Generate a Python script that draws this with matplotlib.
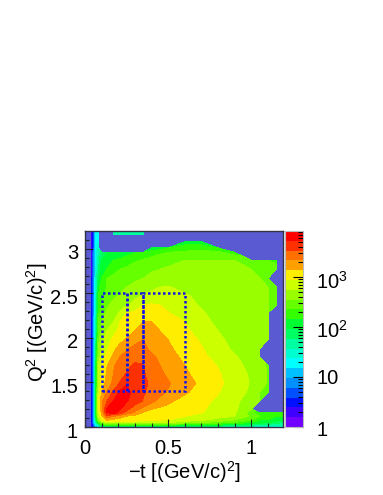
import numpy as np
import matplotlib
matplotlib.use("Agg")
import matplotlib.pyplot as plt
from matplotlib.colors import ListedColormap
from matplotlib.patches import Rectangle
from matplotlib.transforms import ScaledTranslation

plt.rcParams['font.family'] = ['Liberation Sans', 'DejaVu Sans']
plt.rcParams['mathtext.fontset'] = 'custom'
plt.rcParams['mathtext.rm'] = 'Liberation Sans'
plt.rcParams['mathtext.it'] = 'Liberation Sans'
plt.rcParams['mathtext.default'] = 'rm'

N = np.nan
T = [0, .038, .05, .065, .08, .1, .13, .17, .21, .25, .3, .35, .4, .45, .5, .6, .7, .8, .9, 1, 1.05, 1.1, 1.15, 1.19]
Q2 = [1.0, 1.02, 1.05, 1.08, 1.12, 1.16, 1.2, 1.29, 1.39, 1.49, 1.59, 1.69, 1.79, 1.88, 1.98, 2.08, 2.18, 2.28, 2.37, 2.47,
      2.57, 2.67, 2.77, 2.87, 2.96, 3.01, 3.08, 3.16, 3.22]
# colour-band number read at each (Q2, t) node; each band is 0.196 decades of counts
BAND = [
 [N,1,2, 4,5,7,8.5,8.5,8.5,8.5,8.5,8.5,8.5,8.5,8.5,8.5,8,8,7.5,7,7,6.5,6,6],
 [N,1,3, 6,8,10.5,11,11,11,11,11,11,11,11,11,10.5,10.5,10,9.5,9,8.5,8.5,8,8],
 [N,1,4, 8,11,13,14.2,14.5,14.5,14.5,14.5,14.5,14.5,14.3,14,13.5,13,12.5,12,11,10.5,10,9.5,9],
 [N,1,4, 9,13,14.8,16.2,15.8,15.6,15.5,15.4,15.3,15.2,15.1,15,14.6,14.2,13.7,13,12,11,11,10.5,10],
 [N,1,4, 10,14,15.8,17.5,17.1,16.4,15.9,15.7,15.5,15.4,15.3,15.2,15,14.6,14.3,14,12.8,12,11.5,11,11],
 [N,1,4, 10.5,14.5,16.3,19,19.4,18.7,17.6,16.8,15.9,15.7,15.6,15.5,15.3,15.05,14.6,14.1,12.5,11,11.5,12,12],
 [N,1,4, 10.5,15,16.5,19.1,19.5,19.05,18.3,17.4,16.7,16,15.8,15.7,15.4,15.1,14.7,14.2,13,N,N,N,N],
 [N,1,4, 10.5,15,16.8,17.9,19,19.5,19.1,18.5,17.95,17.3,16.7,16.2,15.6,15.2,14.85,14.3,13.3,13,N,N,N],
 [N,1,4, 10,14.5,16,17,18.2,19.2,19.4,18.6,18.1,17.7,17.3,16.9,16.15,15.55,15.05,14.45,13.8,13,12.9,N,N],
 [N,1,4, 10,14,15.3,16.4,17.2,18.1,18.9,18.5,18.2,17.85,17.45,17.1,16.4,15.8,15.2,14.6,13.9,13.4,12.9,N,N],
 [N,1,4, 10,14.1,15.2,16.1,17,17.6,18.1,18.4,18.1,17.65,17.2,16.85,16.2,15.55,15.1,14.5,13.85,13.4,12.9,N,N],
 [N,1,4, 10,14,15,15.9,16.9,17.3,17.7,18.2,18.05,17.5,17,16.7,16,15.4,14.95,14.3,13.7,13.3,12.9,N,N],
 [N,1,4, 9.5,13.5,14.4,15.3,16.2,17,17.3,17.6,17.7,17.2,16.8,16.5,15.7,15.2,14.7,14.1,13.5,13.2,N,N,N],
 [N,1,4, 9,13,14.1,14.8,15.7,16.4,16.9,17.3,17.2,16.8,16.5,16.2,15.5,15.05,14.45,13.8,13.3,13,N,N,N],
 [N,1,4, 8.5,12.7,13.7,14.5,15.2,15.7,16.1,16.6,17,16.6,16.3,16,15.35,14.9,14.2,13.7,13.3,13.1,13,N,N],
 [N,1,4, 8,12,13.2,14,14.7,15.2,15.6,16,16.2,16.25,16,15.7,15.2,14.6,14,13.5,13.3,13.1,13,N,N],
 [N,1,4, 8,12,13,13.5,14,15,15.3,15.6,16,16,15.6,15.4,15,14.3,13.8,13.4,13.2,13.1,13,N,N],
 [N,1,4, 7.5,11.5,12.5,13.1,13.6,14.1,15,15.2,15.35,15.4,15.3,15.05,14.5,14.1,13.7,13.4,13.2,13.1,13,N,N],
 [N,1,4, 7.5,11,12,12.8,13.3,13.6,13.9,14.3,15,15.1,15,14.7,14.3,13.9,13.6,13.4,13.2,13.1,13,12.8,N],
 [N,1,4, 7.5,11,11.7,12.3,12.8,13.1,13.4,13.8,14.1,14.3,14.4,14.5,14.1,13.8,13.6,13.4,13.2,13.1,13,12.8,N],
 [N,1,4, 7,10.5,11.8,12,12.3,12.7,13,13.3,13.5,13.8,14,14.05,13.8,13.6,13.4,13.3,13.2,13.1,13,12.8,N],
 [N,1,4, 7,9.5,11,12,12.2,12.4,12.6,12.8,13,13.2,13.3,13.4,13.4,13.3,13.2,13.2,13.1,13,12.9,N,N],
 [N,1,3.5, 7,9,10.5,11,11.7,12,12.2,12.4,12.6,12.9,13,13.1,13.2,13.2,13.1,13.1,13,13,12.9,12.8,N],
 [N,1,3.5, 6.5,8.5,10,10.6,11,11.2,11.5,11.9,12.1,12.4,12.6,12.8,13,13,13,13,12.6,12.4,12,11.5,N],
 [N,1,3.5, 6.5,8,9.5,10,10.2,10.4,10.6,10.9,11.2,11.5,11.8,12,12.2,12.4,12.2,11.5,N,N,N,N,N],
 [N,1,3, 6.5,7.5,N,N,N,N,N,N,N,10,10.5,11,11.5,11.5,11,N,N,N,N,N,N],
 [N,1,3, 6,7,N,N,N,N,N,N,N,N,N,N,10.5,10.5,N,N,N,N,N,N,N],
 [N,1,3, 6,6.5,N,N,9,9,8.5,8.5,8.5,N,N,N,N,N,N,N,N,N,N,N,N],
 [N,1,3, 6,6.5,N,N,8.5,8.5,8.5,8.5,8.5,N,N,N,N,N,N,N,N,N,N,N,N],
]
BAND_DECADES = 0.196
N_BANDS = 20
BAND_COLORS = ['#7000ff', '#4000ff', '#0010ff', '#0050ff', '#0090ff', '#00c0ff', '#00ffff',
               '#00ffd0', '#00ffa0', '#00ff60', '#00ff30', '#33ff00', '#66ff00', '#99ff00',
               '#ccff00', '#ffee00', '#ffa000', '#ff7000', '#ff3000', '#ff0000']
BOX_T = [0.1, 0.25, 0.35, 0.6]
BOX_Q2 = [1.4, 2.5]
X_LABEL = r'$-$t [(GeV/c)$^{2}$]'
Y_LABEL = r'Q$^{2}$ [(GeV/c)$^{2}$]'
COLOR_TICKS = {1: '1', 10: '10', 100: r'$10^{2}$', 1000: r'$10^{3}$'}
COLOR_LABEL_DROP_PX = {1: 3, 10: 2, 100: 4, 1000: 5}

W, H = 383, 495
fig = plt.figure(figsize=(W / 100, H / 100), dpi=100)
ax = fig.add_axes([85 / W, 1 - 427 / H, 198 / W, 196 / H])
ax.set_facecolor('#5a5ad2')

log_counts = np.array(BAND) * BAND_DECADES
levels = np.arange(N_BANDS + 1) * BAND_DECADES
ax.contourf(T, Q2, log_counts, levels=levels, colors=BAND_COLORS)

for i in range(len(BOX_T) - 1):
    ax.add_patch(Rectangle((BOX_T[i], BOX_Q2[0]), BOX_T[i + 1] - BOX_T[i], BOX_Q2[1] - BOX_Q2[0],
                           fill=False, ec='#1414e6', lw=1.8, ls=(0, (1, 1))))

ax.set_xlim(0, 1.19)
ax.set_ylim(1, 3.2)
ax.set_xticks([0, 0.5, 1])
ax.set_xticklabels(['0', '0.5', '1'])
ax.set_yticks([1, 1.5, 2, 2.5, 3])
ax.set_yticklabels(['1', '1.5', '2', '2.5', '3'])
ax.set_xticks(np.arange(0, 1.19, 0.1), minor=True)
ax.set_yticks(np.arange(1, 3.2, 0.1), minor=True)
ax.tick_params(axis='both', which='major', direction='in', length=6, width=0.8, labelsize=14.5, color='#222222')
ax.tick_params(axis='both', which='minor', direction='in', length=3, width=0.8, color='#222222')
ax.tick_params(axis='x', pad=9)
ax.tick_params(axis='y', pad=5)
down = ScaledTranslation(0, -3 / 100, fig.dpi_scale_trans)
for lab in ax.get_yticklabels():
    lab.set_transform(lab.get_transform() + down)
for s in ax.spines.values():
    s.set_linewidth(1.0)
    s.set_color('#333344')

fig.text(184 / W, 1 - 472 / H, X_LABEL, ha='center', va='center', fontsize=14.5)
fig.text(37 / W, 1 - 322 / H, Y_LABEL, ha='center', va='center', rotation=90, fontsize=14.5)

cax = fig.add_axes([285 / W, 1 - 427 / H, 18 / W, 196 / H])
cax.pcolormesh([0, 1], levels, np.arange(N_BANDS).reshape(-1, 1),
               cmap=ListedColormap(BAND_COLORS), vmin=-0.5, vmax=N_BANDS - 0.5)
cax.set_xlim(0, 1)
cax.set_ylim(0, levels[-1])
cax.set_xticks([])
cax.yaxis.tick_right()
cax.set_yticks(np.log10(list(COLOR_TICKS)))
cax.set_yticklabels([''] * len(COLOR_TICKS))
for val, txt in COLOR_TICKS.items():
    cax.annotate(txt, xy=(1, np.log10(val)), xycoords=('axes fraction', 'data'),
                 xytext=(13 * 0.72, -COLOR_LABEL_DROP_PX[val] * 0.72), textcoords='offset points',
                 ha='left', va='center', fontsize=14.5, annotation_clip=False)
minor = [np.log10(m * 10 ** d) for d in range(4) for m in range(2, 10) if np.log10(m * 10 ** d) < levels[-1]]
cax.set_yticks(minor, minor=True)
cax.tick_params(axis='y', which='major', direction='in', length=7, width=0.8)
cax.tick_params(axis='y', which='minor', direction='in', length=3.5, width=0.8)
for s in cax.spines.values():
    s.set_linewidth(0.8)
    s.set_color('#bbbbbb')

fig.savefig('out.png', dpi=100)
